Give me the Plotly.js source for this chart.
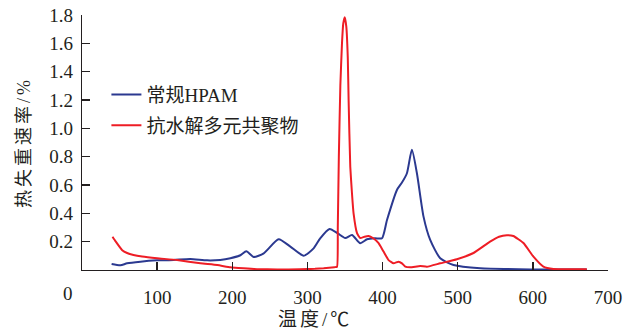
<!DOCTYPE html>
<html>
<head>
<meta charset="utf-8">
<script src="https://cdn.plot.ly/plotly-3.0.1.min.js"></script>
<style>
html,body{margin:0;padding:0;background:#fff;}
#chart{width:640px;height:332px;}
#chart .annotation-text.cjk{letter-spacing:3px;}
</style>
</head>
<body>
<div id="chart"></div>
<script>
// Series names
const seriesNames = ["常规HPAM", "抗水解多元共聚物"];

// 常规HPAM (blue)
const hpamX = [39.4, 51.2, 60, 77.8, 100, 122, 144, 166.5, 184, 197.5, 210.8, 218.7, 228.5, 241.8, 261.7, 277.3, 295, 308.2, 317, 329.5, 340, 350.4, 359.3, 370.3, 379.3, 390, 399.2, 405.9, 419.1, 425.8, 432.4, 439, 445.7, 454.5, 463.4, 476.7, 494.4, 530, 600, 671.8];
const hpamY = [0.042, 0.033, 0.047, 0.059, 0.068, 0.071, 0.078, 0.068, 0.071, 0.083, 0.104, 0.132, 0.092, 0.118, 0.217, 0.165, 0.101, 0.153, 0.224, 0.29, 0.26, 0.226, 0.247, 0.189, 0.217, 0.224, 0.224, 0.353, 0.565, 0.617, 0.683, 0.848, 0.683, 0.377, 0.212, 0.083, 0.035, 0.012, 0.004, 0.003];

// 抗水解多元共聚物 (red)
const copoX = [40.6, 45, 53.5, 60, 68.5, 80, 100, 126.6, 157.6, 180, 197.5, 215, 233, 260, 290, 310, 321.6, 336, 339.4, 340.4, 341.8, 343.8, 346, 347.7, 349.7, 351.7, 353.7, 354.8, 357.0, 359.3, 361.4, 366.0, 370.3, 376, 381.4, 387.6, 394.7, 401.3, 408.0, 414.6, 421.3, 425.8, 430.2, 436.8, 450.1, 459.0, 476.7, 498.9, 521, 543, 555, 565.4, 574, 587.5, 600.8, 614, 627.4, 650, 671.8];
const copoY = [0.235, 0.20, 0.14, 0.12, 0.106, 0.095, 0.083, 0.07, 0.047, 0.035, 0.019, 0.012, 0.006, 0.004, 0.005, 0.008, 0.012, 0.02, 0.023, 0.3, 0.8, 1.3, 1.6, 1.74, 1.785, 1.72, 1.5, 1.2, 0.73, 0.54, 0.40, 0.26, 0.225, 0.235, 0.24, 0.224, 0.19, 0.13, 0.07, 0.047, 0.059, 0.047, 0.024, 0.019, 0.028, 0.023, 0.047, 0.076, 0.12, 0.20, 0.235, 0.245, 0.24, 0.19, 0.094, 0.024, 0.007, 0.005, 0.005];

// Tick labels
const xTickVals = [100, 200, 300, 400, 500, 600, 700];
const xTickText = ["100", "200", "300", "400", "500", "600", "700"];
const yTickVals = [0.2, 0.4, 0.6, 0.8, 1.0, 1.2, 1.4, 1.6, 1.8];
const yTickText = ["0.2", "0.4", "0.6", "0.8", "1.0", "1.2", "1.4", "1.6", "1.8"];

const xTitle = "温度/℃";
const yTitle = "热失重速率/%";

const ink = "#231f20";
const fam = "Liberation Serif, 'Noto Sans CJK SC', serif";

const traces = [
  {x: hpamX, y: hpamY, name: seriesNames[0], type: "scatter", mode: "lines",
   legendgroup: "a",
   line: {color: "#2b3990", width: 2, shape: "spline", smoothing: 0.6}},
  {x: copoX, y: copoY, name: seriesNames[1], type: "scatter", mode: "lines",
   legendgroup: "b",
   line: {color: "#ee1d25", width: 2, shape: "spline", smoothing: 0.4}}
];

const layout = {
  width: 640, height: 332,
  margin: {l: 82, r: 32, t: 15, b: 62},
  paper_bgcolor: "#ffffff", plot_bgcolor: "#ffffff",
  font: {family: fam, color: ink, size: 19},
  showlegend: true,
  legend: {x: 0.0464, y: 0.762, xanchor: "left", yanchor: "top",
           bgcolor: "rgba(0,0,0,0)", traceorder: "grouped", tracegroupgap: 3,
           font: {family: fam, size: 19, color: ink}},
  xaxis: {range: [0, 700], tickvals: xTickVals, ticktext: xTickText,
          showgrid: false, zeroline: false, showline: true, linecolor: ink, linewidth: 1.3,
          ticks: "inside", ticklen: 8, tickwidth: 1.3, tickcolor: ink,
          ticklabelstandoff: 10,
          tickfont: {family: fam, size: 19, color: ink}},
  yaxis: {range: [0, 1.8], tickvals: yTickVals, ticktext: yTickText,
          showgrid: false, zeroline: false, showline: true, linecolor: ink, linewidth: 1.3,
          ticks: "inside", ticklen: 8, tickwidth: 1.3, tickcolor: ink,
          ticklabelstandoff: 4,
          tickfont: {family: fam, size: 19, color: ink}},
  annotations: [
    {text: "0", xref: "paper", yref: "paper", x: -0.0266, y: -0.094,
     xanchor: "center", yanchor: "middle", showarrow: false,
     font: {family: fam, size: 19, color: ink}},
    {text: xTitle, xref: "paper", yref: "paper", x: 0.443, y: -0.196,
     xanchor: "center", yanchor: "middle", showarrow: false,
     font: {family: fam, size: 19, color: ink}},
    {text: yTitle, xref: "paper", yref: "paper", x: -0.112, y: 0.5,
     xanchor: "center", yanchor: "middle", showarrow: false, textangle: -90,
     font: {family: fam, size: 18, color: ink}}
  ]
};

Plotly.newPlot("chart", traces, layout, {staticPlot: true, displayModeBar: false}).then(function () {
  // widen the spacing of the Chinese axis titles like the reference
  document.querySelectorAll("#chart .annotation-text").forEach(function (t) {
    if (/[\u4e00-\u9fff]/.test(t.textContent)) t.classList.add("cjk");
  });
});
</script>
</body>
</html>
